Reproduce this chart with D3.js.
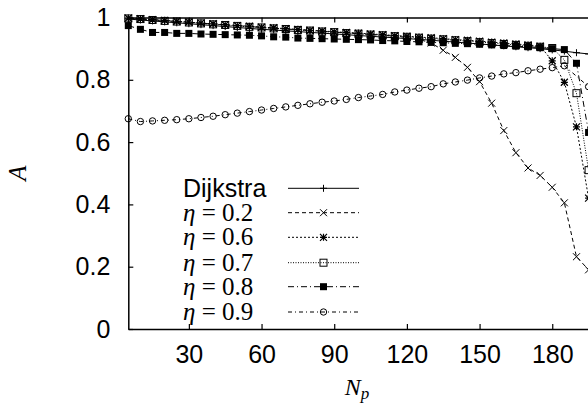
<!DOCTYPE html>
<html>
<head>
<meta charset="utf-8">
<script src="https://cdn.jsdelivr.net/npm/d3@7"></script>
<style>
  body { margin: 0; background: #fff; }
  svg { display: block; }
  .tick text { font-family: "Liberation Sans", Arial, sans-serif; font-size: 25px; fill: #000; }
</style>
</head>
<body>
<svg id="chart" width="588" height="405"></svg>
<script>
// x positions (number of packets)
const Np = [5, 10, 15, 20, 25, 30, 35, 40, 45, 50, 55, 60, 65, 70, 75, 80, 85, 90, 95, 100,
  105, 110, 115, 120, 125, 130, 135, 140, 145, 150, 155, 160, 165, 170, 175, 180, 185, 190, 195];

const dijkstra = [0.995, 0.992, 0.989, 0.986, 0.983, 0.980, 0.977, 0.974, 0.971, 0.968, 0.965, 0.962,
  0.960, 0.957, 0.955, 0.952, 0.950, 0.947, 0.945, 0.942, 0.940, 0.937, 0.935, 0.932, 0.930, 0.927,
  0.924, 0.921, 0.918, 0.915, 0.912, 0.909, 0.906, 0.903, 0.900, 0.896, 0.892, 0.887, 0.883];

const eta02 = [0.998, 0.995, 0.993, 0.990, 0.987, 0.985, 0.982, 0.979, 0.976, 0.974, 0.971, 0.968,
  0.966, 0.963, 0.961, 0.958, 0.956, 0.953, 0.951, 0.948, 0.946, 0.943, 0.940, 0.936, 0.930, 0.918,
  0.895, 0.872, 0.840, 0.794, 0.725, 0.637, 0.566, 0.517, 0.493, 0.455, 0.405, 0.232, 0.190];

const eta06 = [0.998, 0.996, 0.993, 0.991, 0.988, 0.985, 0.982, 0.980, 0.977, 0.974, 0.972, 0.969,
  0.967, 0.964, 0.962, 0.959, 0.957, 0.954, 0.952, 0.950, 0.947, 0.945, 0.942, 0.940, 0.937, 0.935,
  0.932, 0.929, 0.927, 0.924, 0.921, 0.918, 0.915, 0.912, 0.908, 0.861, 0.792, 0.649, 0.420];

const eta07 = [0.997, 0.995, 0.992, 0.989, 0.987, 0.984, 0.981, 0.978, 0.976, 0.973, 0.970, 0.968,
  0.965, 0.963, 0.960, 0.958, 0.955, 0.953, 0.950, 0.948, 0.945, 0.943, 0.940, 0.938, 0.935, 0.932,
  0.930, 0.927, 0.924, 0.921, 0.918, 0.915, 0.912, 0.909, 0.906, 0.902, 0.864, 0.757, 0.510];

const eta08 = [0.974, 0.962, 0.952, 0.952, 0.949, 0.949, 0.947, 0.946, 0.945, 0.944, 0.943, 0.941,
  0.938, 0.937, 0.934, 0.933, 0.932, 0.931, 0.930, 0.929, 0.928, 0.926, 0.925, 0.923, 0.922, 0.920,
  0.919, 0.917, 0.916, 0.914, 0.912, 0.910, 0.908, 0.906, 0.903, 0.900, 0.897, 0.853, 0.631];

const eta09 = [0.675, 0.666, 0.668, 0.670, 0.672, 0.675, 0.679, 0.683, 0.688, 0.693, 0.698, 0.703,
  0.708, 0.713, 0.718, 0.723, 0.728, 0.732, 0.737, 0.743, 0.748, 0.753, 0.761, 0.767, 0.773, 0.778,
  0.787, 0.793, 0.799, 0.806, 0.812, 0.819, 0.823, 0.829, 0.834, 0.839, 0.845, null, 0.778];

const xTicks = [30, 60, 90, 120, 150, 180];
const yTicks = [0, 0.2, 0.4, 0.6, 0.8, 1];

const series = [
  { label: "Dijkstra", values: dijkstra, marker: "plus", dash: null },
  { label: "0.2", values: eta02, marker: "cross", dash: "4,3" },
  { label: "0.6", values: eta06, marker: "star", dash: "2,2" },
  { label: "0.7", values: eta07, marker: "box", dash: "1,1.5" },
  { label: "0.8", values: eta08, marker: "boxfill", dash: "6,3,1,3" },
  { label: "0.9", values: eta09, marker: "circle", dash: "4,3,1,3" }
];

const svg = d3.select("#chart");

const x = d3.scaleLinear().domain([5, 200]).range([128.3, 600.7]);
const y = d3.scaleLinear().domain([0, 1]).range([329, 17.5]);

// axes
svg.append("g")
  .attr("transform", `translate(0,${y(0)})`)
  .call(d3.axisBottom(x).tickValues(xTicks).tickSizeInner(-5).tickSizeOuter(0).tickPadding(16))
  .call(g => g.select(".domain").attr("stroke-width", 1.5));

svg.append("g")
  .attr("transform", `translate(0,${y(1)})`)
  .call(d3.axisTop(x).tickValues(xTicks).tickSizeInner(-5).tickSizeOuter(0).tickFormat(""))
  .call(g => g.select(".domain").attr("stroke-width", 1.5));

svg.append("g")
  .attr("transform", `translate(${x(5)},0)`)
  .call(d3.axisLeft(y).tickValues(yTicks).tickSizeInner(-5).tickSizeOuter(0).tickPadding(18)
    .tickFormat(d3.format("")))
  .call(g => g.select(".domain").attr("stroke-width", 1.5));

svg.selectAll(".tick line").attr("stroke-width", 1.2);

// axis titles
svg.append("text")
  .attr("transform", "translate(26,173) rotate(-90)")
  .attr("text-anchor", "middle")
  .attr("font-family", "Liberation Serif, serif")
  .attr("font-style", "italic")
  .attr("font-size", 25)
  .text("A");

const xt = svg.append("text")
  .attr("x", 357).attr("y", 395)
  .attr("text-anchor", "middle")
  .attr("font-family", "Liberation Serif, serif")
  .attr("font-style", "italic")
  .attr("font-size", 24);
xt.append("tspan").text("N");
xt.append("tspan").attr("font-size", 17).attr("dy", 4).text("p");

// markers
const drawMarker = (g, type, cx, cy) => {
  const s = 3.5;
  if (type === "plus") {
    g.append("path").attr("d", `M${cx - s},${cy}H${cx + s}M${cx},${cy - s}V${cy + s}`)
      .attr("stroke", "#000").attr("stroke-width", 1);
  } else if (type === "cross") {
    g.append("path").attr("d", `M${cx - s},${cy - s}L${cx + s},${cy + s}M${cx - s},${cy + s}L${cx + s},${cy - s}`)
      .attr("stroke", "#000").attr("stroke-width", 1);
  } else if (type === "star") {
    g.append("path").attr("d", `M${cx - s},${cy}H${cx + s}M${cx},${cy - s}V${cy + s}` +
      `M${cx - s},${cy - s}L${cx + s},${cy + s}M${cx - s},${cy + s}L${cx + s},${cy - s}`)
      .attr("stroke", "#000").attr("stroke-width", 1.2);
  } else if (type === "box") {
    g.append("rect").attr("x", cx - s).attr("y", cy - s).attr("width", 2 * s).attr("height", 2 * s)
      .attr("fill", "none").attr("stroke", "#000").attr("stroke-width", 1);
  } else if (type === "boxfill") {
    g.append("rect").attr("x", cx - s).attr("y", cy - s).attr("width", 2 * s).attr("height", 2 * s)
      .attr("fill", "#000");
  } else if (type === "circle") {
    g.append("circle").attr("cx", cx).attr("cy", cy).attr("r", 3.2)
      .attr("fill", "none").attr("stroke", "#000").attr("stroke-width", 1);
  }
};

const line = d3.line().x(d => x(d[0])).y(d => y(d[1]));

series.forEach(s => {
  const pts = Np.map((n, i) => [n, s.values[i]]).filter(d => d[1] != null);
  const g = svg.append("g");
  g.append("path")
    .attr("d", line(pts))
    .attr("fill", "none")
    .attr("stroke", "#000")
    .attr("stroke-width", 1)
    .attr("stroke-dasharray", s.dash);
  pts.forEach(d => drawMarker(g, s.marker, x(d[0]), y(d[1])));
});

// legend
const legY = [188.3, 212.7, 237.3, 262.7, 286.7, 312];
series.forEach((s, i) => {
  const g = svg.append("g");
  const ly = legY[i];
  g.append("line")
    .attr("x1", 288).attr("x2", 359).attr("y1", ly).attr("y2", ly)
    .attr("stroke", "#000").attr("stroke-width", 1)
    .attr("stroke-dasharray", s.dash);
  drawMarker(g, s.marker, 323.5, ly);
  if (s.label === "Dijkstra") {
    g.append("text")
      .attr("x", 183).attr("y", ly + 9)
      .attr("font-family", "Liberation Sans, Arial, sans-serif")
      .attr("font-size", 25)
      .text(s.label);
  } else {
    const t = g.append("text")
      .attr("x", 183).attr("y", ly + 8)
      .attr("font-family", "Liberation Serif, serif")
      .attr("font-size", 25);
    t.append("tspan").attr("font-style", "italic").text("η");
    t.append("tspan").text(" = " + s.label);
  }
});
</script>
</body>
</html>
